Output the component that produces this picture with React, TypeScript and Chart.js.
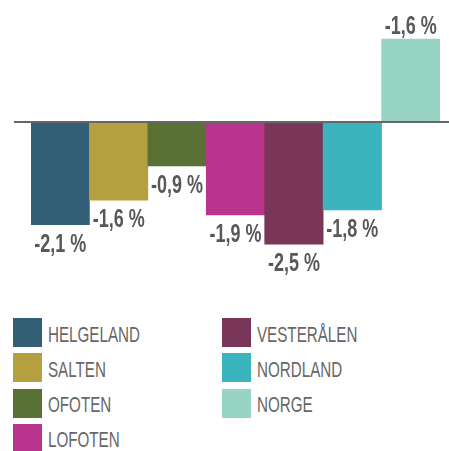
import React, { useEffect, useRef } from "react";
import { Chart, registerables } from "chart.js";

Chart.register(...registerables);

const categories = ["HELGELAND", "SALTEN", "OFOTEN", "LOFOTEN", "VESTERÅLEN", "NORDLAND", "NORGE"];
const values = [-2.1, -1.6, -0.9, -1.9, -2.5, -1.8, 1.7];
const valueLabels = ["-2,1 %", "-1,6 %", "-0,9 %", "-1,9 %", "-2,5 %", "-1,8 %", "-1,6 %"];
const colors = ["#335f76", "#b5a040", "#597134", "#b9348c", "#7a3659", "#3cb4be", "#98d4c3"];
const yMin = -2.6;
const yMax = 2.5;

const FONT = '"Liberation Sans", Arial, sans-serif';

const valueLabelPlugin = {
  id: "valueLabelPlugin",
  afterDatasetsDraw(chart: any) {
    const ctx = chart.ctx;
    const meta = chart.getDatasetMeta(0);
    const y0 = chart.scales.y.getPixelForValue(0);
    ctx.save();
    ctx.strokeStyle = "#666666";
    ctx.lineWidth = 2;
    ctx.beginPath();
    ctx.moveTo(chart.chartArea.left - 17, y0);
    ctx.lineTo(chart.width, y0);
    ctx.stroke();
    ctx.font = `bold 25px ${FONT}`;
    ctx.fillStyle = "#585858";
    ctx.textAlign = "center";
    ctx.textBaseline = "alphabetic";
    meta.data.forEach((bar: any, i: number) => {
      const v = values[i];
      const y = v < 0 ? bar.y + 27 : bar.y - 4.7;
      ctx.save();
      ctx.translate(bar.x, y);
      ctx.scale(0.72, 1);
      ctx.fillText(valueLabels[i], 0, 0);
      ctx.restore();
    });
    ctx.restore();
  },
};

export default function App() {
  const canvasRef = useRef<HTMLCanvasElement | null>(null);

  useEffect(() => {
    document.body.style.margin = "0";
    const canvas = canvasRef.current;
    if (!canvas) return;
    const chart = new Chart(canvas, {
      type: "bar",
      data: {
        labels: categories,
        datasets: [
          {
            data: values,
            backgroundColor: colors,
            borderWidth: 0,
            barPercentage: 1,
            categoryPercentage: 1,
          },
        ],
      },
      options: {
        animation: false,
        responsive: false,
        devicePixelRatio: 1,
        layout: { padding: { top: 0, bottom: 41, left: 31, right: 9 } },
        plugins: {
          legend: { display: false },
          tooltip: { enabled: false },
        },
        scales: {
          x: { display: false, grid: { display: false } },
          y: { display: false, min: yMin, max: yMax, grid: { display: false } },
        },
      },
      plugins: [valueLabelPlugin],
    });
    return () => chart.destroy();
  }, []);

  return (
    <div style={{ position: "relative", width: 449, height: 451, background: "#fff", overflow: "hidden" }}>
      <canvas ref={canvasRef} width={449} height={290} style={{ display: "block", width: 449, height: 290 }} />
      <div
        style={{
          position: "absolute",
          left: 13,
          top: 318,
          display: "grid",
          gridAutoFlow: "column",
          gridTemplateRows: "repeat(4, 29px)",
          gridTemplateColumns: "209px 200px",
          rowGap: "6.3px",
        }}
      >
        {categories.map((c, i) => (
          <div key={c} style={{ display: "flex", alignItems: "center", height: 29 }}>
            <div style={{ width: 29, height: 29, background: colors[i], flex: "none" }} />
            <span
              style={{
                display: "inline-block",
                marginLeft: 6,
                fontFamily: FONT,
                fontSize: 22,
                color: "#676767",
                lineHeight: "29px",
                paddingTop: 3,
                whiteSpace: "nowrap",
                transform: "scaleX(0.69)",
                transformOrigin: "left center",
              }}
            >
              {c}
            </span>
          </div>
        ))}
      </div>
    </div>
  );
}
